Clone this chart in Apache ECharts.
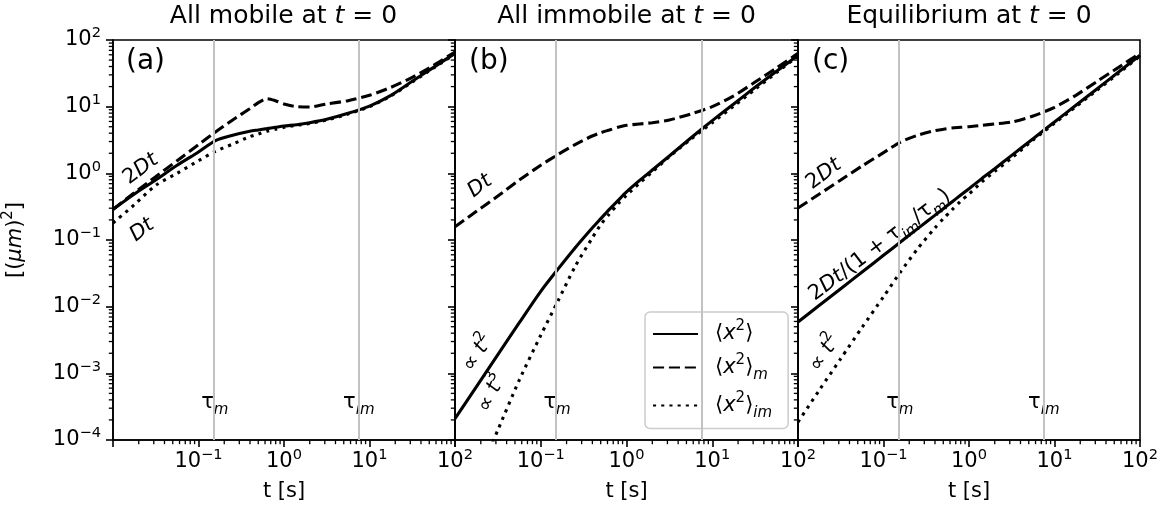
<!DOCTYPE html>
<html>
<head>
<meta charset="utf-8">
<script src="https://cdn.jsdelivr.net/npm/echarts@6.0.0/dist/echarts.min.js"></script>
<style>
  html, body { margin: 0; padding: 0; background: #fff; }
  #chart { width: 1163px; height: 515px; }
</style>
</head>
<body>
<div id="chart"></div>
<script>
'use strict'

//------------------- Data START -------------------//
// time points shared by every curve [s]
const tValues = [0.01, 0.0178, 0.0316, 0.0562, 0.1, 0.158, 0.251, 0.398, 0.501, 0.631, 0.794,
  1, 1.41, 2.0, 3.16, 5.62, 10, 17.8, 31.6, 56.2, 100]

// (a) all mobile at t = 0
const mobileX2 = [0.288, 0.49, 0.794, 1.32, 2.09, 3.09, 3.72, 4.27, 4.47, 4.68, 4.9,
  5.13, 5.37, 5.75, 6.46, 7.94, 10.2, 14.8, 24.0, 38.9, 63.1]
const mobileX2m = [0.288, 0.513, 0.891, 1.55, 2.69, 4.17, 6.31, 9.33, 11.5, 13.2, 12.3,
  11.0, 10.0, 9.89, 11.0, 12.3, 14.8, 19.5, 27.5, 41.7, 66.1]
const mobileX2im = [0.18, 0.339, 0.661, 1.0, 1.55, 2.14, 2.75, 3.55, 3.89, 4.27, 4.57,
  4.9, 5.25, 5.62, 6.31, 7.76, 10.0, 14.5, 23.4, 38.0, 61.7]

// (b) all immobile at t = 0
const immobileX2 = [2.09e-4, 6.31e-4, 1.91e-3, 5.75e-3, 0.017, 0.0363, 0.0759, 0.151, 0.209, 0.288, 0.389,
  0.525, 0.776, 1.12, 1.82, 3.39, 6.17, 11.0, 19.5, 33.9, 58.9]
const immobileX2m = [0.158, 0.269, 0.457, 0.794, 1.32, 1.91, 2.69, 3.63, 4.07, 4.47, 4.9,
  5.25, 5.5, 5.75, 6.31, 7.76, 10.0, 14.5, 23.4, 38.0, 63.1]
const immobileX2im = [null, 2.51e-5, 1.41e-4, 7.94e-4, 3.72e-3, 0.012, 0.0398, 0.107, 0.17, 0.245, 0.347,
  0.468, 0.708, 1.05, 1.78, 3.24, 5.75, 10.2, 18.2, 32.4, 57.5]

// (c) equilibrium at t = 0
const equilX2 = [5.89e-3, 0.0105, 0.0186, 0.0331, 0.0589, 0.0933, 0.148, 0.234, 0.295, 0.372, 0.468,
  0.589, 0.832, 1.17, 1.86, 3.31, 5.89, 10.5, 18.6, 33.1, 58.9]
const equilX2m = [0.302, 0.49, 0.794, 1.29, 2.04, 2.95, 3.72, 4.37, 4.57, 4.79, 4.9,
  5.01, 5.25, 5.5, 5.89, 7.24, 9.77, 14.8, 24.0, 38.9, 63.1]
const equilX2im = [1.86e-4, 5.62e-4, 1.66e-3, 4.9e-3, 0.0141, 0.0331, 0.0741, 0.151, 0.209, 0.282, 0.38,
  0.49, 0.741, 1.07, 1.7, 3.16, 5.62, 10.0, 17.8, 31.6, 57.5]

// characteristic times [s]
const tauM = 0.155
const tauIm = 7.5

// minor tick values
const minorMantissas = [2, 3, 4, 5, 6, 7, 8, 9]
const xDecades = [0.01, 0.1, 1, 10]
const yDecades = [1e-4, 1e-3, 1e-2, 0.1, 1, 10]
//------------------- Data END -------------------//

const FONT = 'DejaVu Sans'
const X_MIN = 0.01
const X_MAX = 100
const Y_MIN = 1e-4
const Y_MAX = 100

const minorOf = decades => decades.flatMap(d => minorMantissas.map(m => +(m * d).toPrecision(3)))
const xMinor = minorOf(xDecades)
const yMinor = minorOf(yDecades)

const pairs = ys => tValues.map((t, i) => [t, ys[i]])

const noBorder = {textBorderWidth: 0, textBorderColor: 'transparent', textShadowBlur: 0}

const tickRich = {
  b: {fontFamily: FONT, fontSize: 21, lineHeight: 28, color: '#000'},
  s: {fontFamily: FONT, fontSize: 14.6, lineHeight: 15, verticalAlign: 'top', color: '#000'},
}

const mathRich = {
  n: {fontFamily: FONT, fontSize: 21, lineHeight: 30, color: '#000', ...noBorder},
  p: {fontFamily: FONT, fontSize: 21, lineHeight: 30, color: '#000', padding: [0, 0, 0, 12], ...noBorder},
  i: {fontFamily: FONT, fontSize: 21, lineHeight: 30, fontStyle: 'italic', color: '#000', ...noBorder},
  s: {fontFamily: FONT, fontSize: 15, lineHeight: 20, verticalAlign: 'top', color: '#000', ...noBorder},
  u: {fontFamily: FONT, fontSize: 15, lineHeight: 20, verticalAlign: 'bottom', fontStyle: 'italic', color: '#000', ...noBorder},
}

const pow10Label = v => {
  const e = Math.round(Math.log10(v))
  return `{b|10}{s|${e < 0 ? '\u2212' + (-e) : e}}`
}

const legendText = {
  x2: '{p|\u27e8}{i|x}{s|2}{n|\u27e9}',
  x2m: '{p|\u27e8}{i|x}{s|2}{n|\u27e9}{u|m}',
  x2im: '{p|\u27e8}{i|x}{s|2}{n|\u27e9}{u|im}',
}

const tauLabel = {
  m: '{n|\u03c4}{u|m}',
  im: '{n|\u03c4}{u|im}',
}

const panels = [
  {
    left: 112, width: 343, tag: '(a)',
    title: 'All mobile at {i|t} = 0',
    curves: [mobileX2, mobileX2m, mobileX2im],
    taus: [[tauM, tauLabel.m], [tauIm, tauLabel.im]],
    notes: [
      [0.0212, 1.16, '{n|2}{i|Dt}', 37],
      [0.0219, 0.141, '{i|Dt}', 37],
    ],
  },
  {
    left: 455, width: 343, tag: '(b)',
    title: 'All immobile at {i|t} = 0',
    curves: [immobileX2, immobileX2m, immobileX2im],
    taus: [[tauM, tauLabel.m]],
    notes: [
      [0.0196, 0.646, '{i|Dt}', 37],
      [0.0186, 2.02e-3, '{n|\u221d }{i|t}{s|2}', 57],
      [0.027, 5.07e-4, '{n|\u221d }{i|t}{s|3}', 65],
    ],
  },
  {
    left: 798, width: 342, tag: '(c)',
    title: 'Equilibrium at {i|t} = 0',
    curves: [equilX2, equilX2m, equilX2im],
    taus: [[tauM, tauLabel.m], [tauIm, tauLabel.im]],
    notes: [
      [0.0201, 0.977, '{n|2}{i|Dt}', 37],
      [0.0908, 0.0841, '{n|2}{i|Dt}{n|/(1 + \u03c4}{u|im}{n|/\u03c4}{u|m}{n|)}', 37],
      [0.0207, 2.02e-3, '{n|\u221d }{i|t}{s|2}', 57],
    ],
  },
]

const curveNames = ['x2', 'x2m', 'x2im']
const curveDash = ['solid', [11.1, 4.8], [3.1, 5.1]]

const grid = []
const xAxis = []
const yAxis = []
const title = []
const graphic = []
const series = []

panels.forEach((p, i) => {
  grid.push({
    left: p.left, top: 40, width: p.width, height: 400,
    show: true, borderColor: '#000', borderWidth: 1.6, backgroundColor: 'transparent',
  })

  title.push({
    text: p.title, left: p.left + p.width / 2, top: 4, textAlign: 'center', padding: 0,
    textStyle: {
      fontFamily: FONT, fontSize: 25, fontWeight: 'normal', color: '#000',
      rich: {i: {fontFamily: FONT, fontSize: 25, fontStyle: 'italic', color: '#000'}},
    },
  })

  graphic.push({
    type: 'text', left: p.left + 14, top: 48,
    style: {text: p.tag, font: `28px "${FONT}"`, fill: '#000'},
  })

  const axisCommon = {
    type: 'log', logBase: 10, gridIndex: i,
    axisLine: {show: true, lineStyle: {color: '#000', width: 1.6}},
    axisTick: {show: true, length: 7, lineStyle: {color: '#000', width: 1.6}},
    splitLine: {show: false},
    minorTick: {show: false},
  }

  xAxis.push({
    ...axisCommon,
    min: X_MIN, max: X_MAX, splitNumber: 4,
    axisLabel: {
      margin: 8, showMinLabel: true, showMaxLabel: true,
      fontFamily: FONT, fontSize: 21, color: '#000',
      formatter: v => (v < X_MIN * 1.1 ? '' : pow10Label(v)),
      rich: tickRich,
    },
    name: 't [s]', nameLocation: 'middle', nameGap: 41,
    nameTextStyle: {fontFamily: FONT, fontSize: 21, color: '#000'},
  })

  yAxis.push({
    ...axisCommon,
    min: Y_MIN, max: Y_MAX, splitNumber: 6,
    axisLabel: {
      show: i === 0, margin: 12, showMinLabel: true, showMaxLabel: true,
      fontFamily: FONT, fontSize: 21, color: '#000',
      formatter: pow10Label, rich: tickRich,
    },
    name: i === 0 ? '[({i|\u03bcm}){s|2}]' : '',
    nameLocation: 'middle', nameGap: 82, nameRotate: 90,
    nameTextStyle: {fontFamily: FONT, fontSize: 21, color: '#000', rich: mathRich},
  })

  // gray reference lines at tau_m and tau_im, behind the curves
  series.push({
    type: 'line', xAxisIndex: i, yAxisIndex: i, data: [], z: 1, silent: true,
    markLine: {
      silent: true, symbol: ['none', 'none'], label: {show: false},
      lineStyle: {color: '#c2c2c2', width: 2, type: 'solid'},
      emphasis: {disabled: true},
      data: [{xAxis: tauM}, {xAxis: tauIm}],
    },
  })

  p.curves.forEach((ys, k) => {
    series.push({
      name: curveNames[k], type: 'line', xAxisIndex: i, yAxisIndex: i,
      data: pairs(ys), symbol: 'none', smooth: 0.25, z: 3,
      color: '#000',
      lineStyle: {color: '#000', width: 3.1, type: curveDash[k]},
      emphasis: {disabled: true},
    })
  })

  const labelBase = {
    show: true, position: 'inside', color: '#000', rich: mathRich, ...noBorder,
  }
  // invisible anchor symbol, fully opaque label
  const anchorStyle = {color: 'rgba(0,0,0,0)', opacity: 1}

  // tau labels with a white box that cuts the gray line
  series.push({
    type: 'scatter', xAxisIndex: i, yAxisIndex: i, z: 4, silent: true,
    symbolSize: 1, itemStyle: anchorStyle,
    data: p.taus.map(([tau, text]) => ({
      value: [tau, 3.6e-4],
      label: {...labelBase, formatter: text, backgroundColor: '#fff', padding: [9, 3, 9, 3]},
    })),
  })

  // curve annotations
  series.push({
    type: 'scatter', xAxisIndex: i, yAxisIndex: i, z: 4, silent: true,
    symbolSize: 1, itemStyle: anchorStyle,
    data: p.notes.map(([t, v, text, rot]) => ({
      value: [t, v],
      label: {...labelBase, formatter: text, rotate: rot},
    })),
  })

  // log minor ticks on the bottom axis
  series.push({
    type: 'custom', xAxisIndex: i, yAxisIndex: i, silent: true, clip: false, z: 5,
    data: xMinor.map(t => [t, Y_MIN]),
    renderItem: (params, api) => {
      const pt = api.coord([api.value(0), api.value(1)])
      return {
        type: 'line',
        shape: {x1: pt[0], y1: pt[1], x2: pt[0], y2: pt[1] + 4.2},
        style: {stroke: '#000', lineWidth: 1.3},
      }
    },
  })

  // log minor ticks on the left axis
  series.push({
    type: 'custom', xAxisIndex: i, yAxisIndex: i, silent: true, clip: false, z: 5,
    data: yMinor.map(v => [X_MIN, v]),
    renderItem: (params, api) => {
      const pt = api.coord([api.value(0), api.value(1)])
      return {
        type: 'line',
        shape: {x1: pt[0] - 4.2, y1: pt[1], x2: pt[0], y2: pt[1]},
        style: {stroke: '#000', lineWidth: 1.3},
      }
    },
  })
})

const option = {
  animation: false,
  backgroundColor: '#fff',
  textStyle: {fontFamily: FONT},
  title,
  grid,
  xAxis,
  yAxis,
  graphic,
  legend: {
    data: curveNames,
    orient: 'vertical',
    left: 645, top: 312,
    padding: [7, 16, 8, 7],
    itemWidth: 45, itemHeight: 14, itemGap: 8,
    borderColor: '#cccccc', borderWidth: 1.5, borderRadius: 5,
    backgroundColor: 'rgba(255,255,255,0.85)',
    selectedMode: false,
    itemStyle: {opacity: 0},
    formatter: name => legendText[name],
    textStyle: {fontFamily: FONT, fontSize: 21, color: '#000', rich: mathRich},
  },
  series,
}

const chart = echarts.init(document.getElementById('chart'), null, {renderer: 'canvas'})
chart.setOption(option)
</script>
</body>
</html>
